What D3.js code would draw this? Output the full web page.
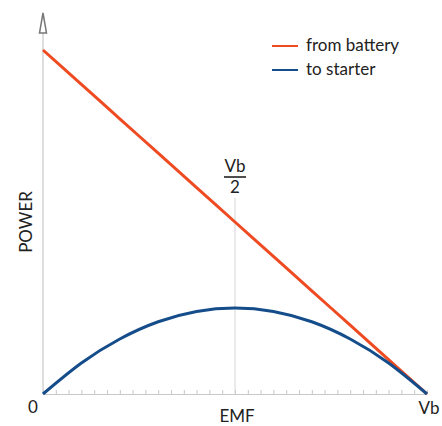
<!DOCTYPE html>
<html>
<head>
<meta charset="utf-8">
<script src="https://cdn.jsdelivr.net/npm/d3@7"></script>
<style>
  body { margin: 0; background: #fff; }
  text { font-family: Lato, "Open Sans", sans-serif; fill: #222; }
</style>
</head>
<body>
<script>
// EMF as a fraction of Vb, and power as a fraction of the maximum
const emf = [0, 0.1, 0.2, 0.3, 0.4, 0.5, 0.6, 0.7, 0.8, 0.9, 1];
const fromBattery = [1, 0.9, 0.8, 0.7, 0.6, 0.5, 0.4, 0.3, 0.2, 0.1, 0];
const toStarter = [0, 0.09, 0.16, 0.21, 0.24, 0.25, 0.24, 0.21, 0.16, 0.09, 0];
const xLabels = ["0", "Vb"];
const legendNames = ["from battery", "to starter"];
const couleurs = ["#ef4b22", "#154d8b"];

const W = 442, H = 426;
const taille = 17;
const svg = d3.select("body").append("svg")
  .attr("width", W).attr("height", H);

const x = d3.scaleLinear().domain([0, 1]).range([43, 427]);
const y = d3.scaleLinear().domain([0, 1]).range([394, 50]);

// axe vertical + fleche
svg.append("line")
  .attr("x1", x(0)).attr("x2", x(0))
  .attr("y1", y(0)).attr("y2", 33)
  .attr("stroke", "#c8c8c8").attr("stroke-width", 1.2);
svg.append("path")
  .attr("d", `M${x(0)},13 L${x(0) - 3.5},33 L${x(0) + 3.5},33 Z`)
  .attr("fill", "none").attr("stroke", "#777").attr("stroke-width", 1.5);

// axe horizontal avec petites graduations
const axe = svg.append("g")
  .attr("transform", `translate(0,${y(0)})`)
  .call(d3.axisBottom(x).tickValues(d3.range(31).map(i => i / 30))
    .tickSizeInner(-4).tickSizeOuter(0).tickFormat(""));
axe.select(".domain").attr("stroke", "#c8c8c8");
axe.selectAll(".tick line").attr("stroke", "#c8c8c8");

// ligne verticale a Vb/2
svg.append("line")
  .attr("x1", x(0.5)).attr("x2", x(0.5))
  .attr("y1", 198).attr("y2", y(0))
  .attr("stroke", "#d4d4d4").attr("stroke-width", 1);
svg.append("text").attr("x", x(0.5)).attr("y", 172)
  .attr("text-anchor", "middle").attr("font-size", taille).text("Vb");
svg.append("line")
  .attr("x1", x(0.5) - 11).attr("x2", x(0.5) + 11)
  .attr("y1", 177).attr("y2", 177)
  .attr("stroke", "#222").attr("stroke-width", 1.6);
svg.append("text").attr("x", x(0.5)).attr("y", 193)
  .attr("text-anchor", "middle").attr("font-size", taille).text("2");

// courbes
const ligne = d3.line().x((d, i) => x(emf[i])).y(d => y(d)).curve(d3.curveNatural);
[fromBattery, toStarter].forEach((serie, k) => {
  svg.append("path")
    .attr("d", ligne(serie))
    .attr("fill", "none")
    .attr("stroke", couleurs[k])
    .attr("stroke-width", 3);
});

// etiquettes des axes
svg.append("text").attr("x", 33).attr("y", 413)
  .attr("text-anchor", "middle").attr("font-size", taille).text(xLabels[0]);
svg.append("text").attr("x", 429).attr("y", 414)
  .attr("text-anchor", "middle").attr("font-size", taille).text(xLabels[1]);
svg.append("text").attr("x", 237).attr("y", 422)
  .attr("text-anchor", "middle").attr("font-size", taille).text("EMF");
svg.append("text")
  .attr("transform", "translate(32,222) rotate(-90)")
  .attr("text-anchor", "middle").attr("font-size", taille).text("POWER");

// legende
const leg = svg.append("g");
legendNames.forEach((nom, k) => {
  const yy = 46 + k * 24;
  leg.append("line").attr("x1", 272).attr("x2", 298)
    .attr("y1", yy).attr("y2", yy)
    .attr("stroke", couleurs[k]).attr("stroke-width", 2);
  leg.append("text").attr("x", 306).attr("y", yy + 5)
    .attr("font-size", taille).text(nom);
});
</script>
</body>
</html>
